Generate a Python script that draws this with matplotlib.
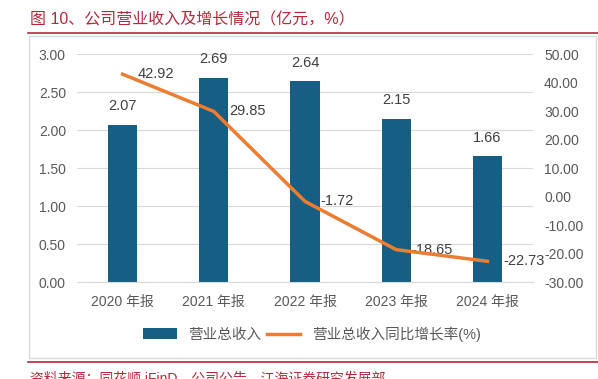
import matplotlib.pyplot as plt
from matplotlib.patches import Rectangle
from matplotlib.lines import Line2D

plt.rcParams['font.family'] = ['Liberation Sans', 'Noto Sans CJK SC', 'DejaVu Sans']

years = ["2020 年报", "2021 年报", "2022 年报", "2023 年报", "2024 年报"]
revenue = [2.07, 2.69, 2.64, 2.15, 1.66]
growth = [42.92, 29.85, -1.72, -18.65, -22.73]

bar_color = "#175E84"
line_color = "#ED7D31"
red = "#B8283A"
gray = "#595959"

fig = plt.figure(figsize=(5.98, 3.79), dpi=100)

# title and frame
fig.text(30 / 598, 1 - 20 / 379, "图 10、公司营业收入及增长情况（亿元，%）", color=red,
         fontsize=11.5, va="center", ha="left")
fig.add_artist(Line2D([28 / 598, 1], [1 - 33 / 379] * 2, color=red, lw=1.2))
fig.add_artist(Rectangle((29 / 598, 1 - 358 / 379), 567 / 598, 322 / 379, fill=False,
                         edgecolor="#D9D9D9", lw=1))
fig.add_artist(Line2D([28 / 598, 1], [1 - 362 / 379] * 2, color=red, lw=1.2))
fig.text(30 / 598, 1 - 378 / 379, "资料来源：同花顺 iFinD，公司公告，江海证券研究发展部",
         color=red, fontsize=10, va="center", ha="left")

ax = fig.add_axes([77 / 598, 1 - 282 / 379, 456 / 598, 228 / 379])
x = range(len(years))
bars = ax.bar(x, revenue, width=0.32, color=bar_color, zorder=2, label="营业总收入")
ax.set_ylim(0, 3.0)
ax.set_yticks([i * 0.5 for i in range(7)])
ax.set_yticklabels([f"{i * 0.5:.2f}" for i in range(7)])
ax.set_xlim(-0.5, len(years) - 0.5)
ax.set_xticks(list(x))
ax.set_xticklabels(years)
ax.grid(axis="y", color="#D9D9D9", lw=0.8, zorder=0)
for s in ax.spines.values():
    s.set_visible(False)
ax.spines["bottom"].set_visible(True)
ax.spines["bottom"].set_color("#D9D9D9")
ax.tick_params(axis="both", length=0, labelsize=10, labelcolor=gray, pad=8)
ax.tick_params(axis="x", pad=9)

for b, v in zip(bars, revenue):
    ax.text(b.get_x() + b.get_width() / 2, v + 0.24, f"{v:.2f}", ha="center",
            va="center", fontsize=10.5, color="#404040")

ax2 = ax.twinx()
ax2.plot(list(x), growth, color=line_color, lw=2.5, zorder=3, label="营业总收入同比增长率(%)")
ax2.set_ylim(-30, 50)
ax2.set_yticks(range(-30, 51, 10))
ax2.set_yticklabels([f"{v:.2f}" for v in range(-30, 51, 10)])
for s in ax2.spines.values():
    s.set_visible(False)
ax2.tick_params(axis="y", length=0, labelsize=10, labelcolor=gray, pad=8)

for i, v in enumerate(growth):
    ax2.text(i + 0.17, v, f"{v:.2f}", ha="left", va="center", fontsize=10.5,
             color="#404040", zorder=1)

h1, l1 = ax.get_legend_handles_labels()
h2, l2 = ax2.get_legend_handles_labels()
fig.legend(h1 + h2, l1 + l2, loc="center", bbox_to_anchor=(312 / 598, 1 - 334 / 379), ncol=2,
           frameon=False, fontsize=10.5, labelcolor=gray, handlelength=2.3,
           columnspacing=0.35, handletextpad=0.8)

plt.savefig("out.png", dpi=100)
